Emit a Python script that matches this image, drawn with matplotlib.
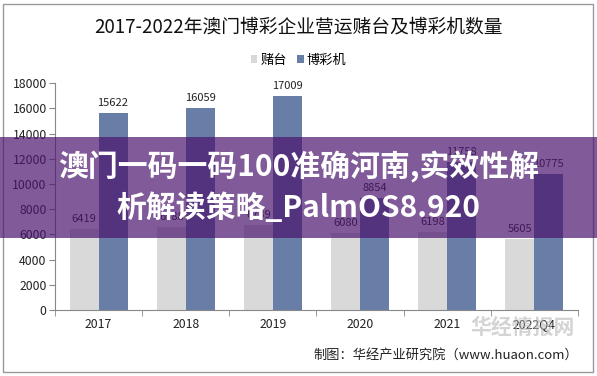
import numpy as np
import matplotlib
matplotlib.use('Agg')
import matplotlib.pyplot as plt
from matplotlib.patches import Rectangle

plt.rcParams['font.family'] = ['Noto Sans CJK SC', 'DejaVu Sans']

# data
years = ['2017', '2018', '2019', '2020', '2021', '2022Q4']
tables = [6419, 6588, 6739, 6080, 6198, 5605]
machines = [15622, 16059, 17009, 8854, 11758, 10775]
yticks = list(range(0, 18001, 2000))

gray = '#d9d9d9'
blue = '#687ea6'

fig = plt.figure(figsize=(5.97, 3.76), dpi=100)
ax = fig.add_axes([0.0921, 0.1755, 0.8760, 0.6035])

x = np.arange(len(years))
w = 0.333
b1 = ax.bar(x - w / 2, tables, w, color=gray, label='赌台')
b2 = ax.bar(x + w / 2, machines, w, color=blue, label='博彩机')

for rect, v in zip(b1, tables):
    ax.text(rect.get_x() + rect.get_width() / 2, v + 400, str(v),
            ha='center', va='bottom', fontsize=8, color='#222222')
for rect, v in zip(b2, machines):
    ax.text(rect.get_x() + rect.get_width() / 2, v + 400, str(v),
            ha='center', va='bottom', fontsize=8, color='#222222')

ax.set_xlim(-0.5, len(years) - 0.5)
ax.set_ylim(0, 18000)
ax.set_yticks(yticks)
ax.set_yticklabels([str(t) for t in yticks], fontsize=8.8, color='#222222')
ax.set_xticks(x)
ax.set_xticklabels(years, fontsize=8.8, color='#222222')
ax.set_xticks(np.arange(-0.5, len(years), 1), minor=True)
ax.tick_params(axis='x', which='major', length=0, pad=6)
ax.tick_params(axis='x', which='minor', length=4, color='#888888')
ax.tick_params(axis='y', length=4, color='#888888', pad=2)
for s in ['top', 'right']:
    ax.spines[s].set_visible(False)
for s in ['left', 'bottom']:
    ax.spines[s].set_color('#888888')
    ax.spines[s].set_linewidth(0.8)

fig.text(0.5, 0.928, '2017-2022年澳门博彩企业营运赌台及博彩机数量',
         ha='center', va='center', fontsize=13.5, color='#111111')
fig.legend(handles=[b1, b2], loc='center', bbox_to_anchor=(0.5, 0.84),
           ncol=2, frameon=False, fontsize=9.5, handlelength=0.5,
           handleheight=0.5, handletextpad=0.2, columnspacing=0.8)

# watermark of the source site
fig.text(0.875, 0.13, '华经情报网', ha='center', va='center', fontsize=15,
         color='#b8b8b8', alpha=0.6, weight='bold')
fig.text(0.968, 0.055, '制图：华经产业研究院（www.huaon.com）',
         ha='right', va='center', fontsize=9.5, color='#222222')

# outer frame
fig.patches.append(Rectangle((3 / 597, 4 / 376), 590 / 597, 368 / 376,
                             transform=fig.transFigure, fill=False,
                             edgecolor='#999999', linewidth=1))

# overlay banner
fig.patches.append(Rectangle((0, 1 - 238 / 376), 1, 101 / 376,
                             transform=fig.transFigure, facecolor='#4b146e',
                             alpha=0.7, edgecolor='none', zorder=5))
fig.text(0.5, 1 - 167 / 376, '澳门一码一码100准确河南,实效性解',
         ha='center', va='center', fontsize=21.5, color='white',
         weight='bold', zorder=6)
fig.text(0.5, 1 - 208 / 376, '析解读策略_PalmOS8.920',
         ha='center', va='center', fontsize=21.5, color='white',
         weight='bold', zorder=6)

fig.savefig('out.png', dpi=100)
